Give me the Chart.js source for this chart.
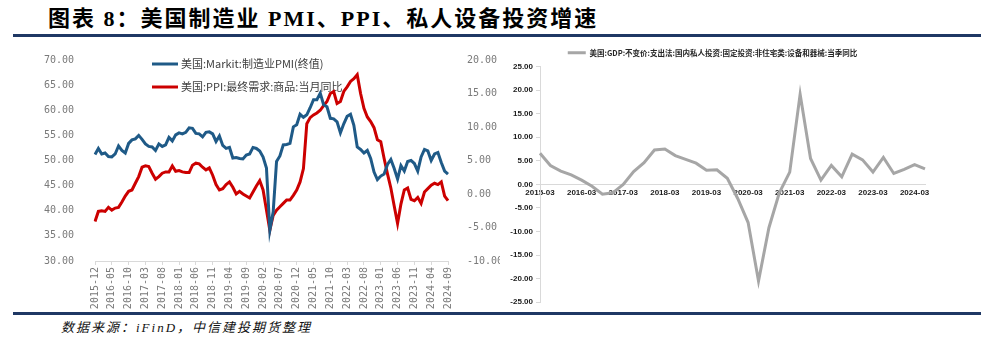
<!DOCTYPE html>
<html>
<head>
<meta charset="utf-8">
<script src="https://cdn.jsdelivr.net/npm/chart.js@4.4.1/dist/chart.umd.min.js"></script>
<style>
  html, body { margin: 0; padding: 0; background: #fff; }
  #page { position: relative; width: 994px; height: 341px; overflow: hidden; font-family: 'Noto Sans CJK SC', sans-serif; }
  #title { position: absolute; left: 48px; top: 6px; font-family: 'Liberation Serif', 'Noto Sans CJK SC', serif; font-size: 22px; line-height: 26px; font-weight: 700; letter-spacing: 2px; color: #000; white-space: nowrap; }
  .rule { position: absolute; left: 13px; width: 968px; height: 3px; background: #1f3864; }
  #src { position: absolute; left: 61px; top: 318px; font-family: 'Liberation Serif', 'Noto Sans CJK SC', serif; font-size: 13px; line-height: 20px; font-style: italic; letter-spacing: 2px; color: #111; white-space: nowrap; }
  canvas { position: absolute; }
</style>
</head>
<body>
<div id="page">
  <div id="title">图表 8：美国制造业 PMI、PPI、私人设备投资增速</div>
  <div class="rule" style="top:34px"></div>
  <canvas id="left" width="460" height="272" style="left:40px;top:40px;width:460px;height:272px"></canvas>
  <canvas id="right" width="440" height="275" style="left:500px;top:35px;width:440px;height:275px"></canvas>
  <div class="rule" style="top:312px"></div>
  <div id="src">数据来源：iFinD，中信建投期货整理</div>
</div>
<script>
// ---- left chart data: monthly, 2015-12 .. 2024-09
const monthStart = [2015, 12];
const monthCount = 106;
const pmiLabel = '美国:Markit:制造业PMI(终值)';
const ppiLabel = '美国:PPI:最终需求:商品:当月同比';
const pmiValues = [
  51.2,
  52.4, 51.3, 51.5, 50.8, 50.7, 51.3, 52.9, 52.0, 51.5, 53.4, 54.1, 54.3,
  55.0, 54.2, 53.3, 52.8, 52.7, 52.0, 53.3, 52.8, 53.1, 54.6, 53.9, 55.1,
  55.5, 55.3, 55.6, 56.5, 56.4, 55.4, 55.3, 54.7, 55.6, 55.7, 55.3, 53.8,
  54.9, 53.0, 52.4, 52.6, 50.5, 50.6, 50.4, 50.3, 51.1, 51.3, 52.6, 52.4,
  51.9, 50.7, 48.5, 36.1, 39.8, 49.8, 50.9, 53.1, 53.2, 53.4, 56.7, 57.1,
  59.2, 58.6, 59.1, 60.5, 62.1, 62.1, 63.4, 61.1, 60.7, 58.4, 58.3, 57.7,
  55.5, 57.3, 58.8, 59.2, 57.0, 52.7, 52.2, 51.5, 52.0, 50.4, 47.7, 46.2,
  46.9, 47.3, 49.2, 50.2, 48.4, 46.3, 49.0, 47.9, 49.8, 50.0, 49.4, 47.9,
  50.7, 52.2, 51.9, 50.0, 51.3, 51.6, 49.6, 47.9, 47.3
];
const ppiValues = [
  -4.1,
  -2.6, -2.5, -2.6, -2.0, -2.4, -2.1, -2.0, -1.2, -0.3, 0.4, 0.6, 1.6,
  2.6, 4.0, 4.2, 4.1, 3.1, 2.2, 2.6, 3.1, 3.3, 3.3, 4.2, 3.4,
  3.5, 3.3, 3.2, 3.2, 4.3, 4.6, 4.5, 4.0, 3.6, 3.9, 2.8, 1.4,
  0.6, 0.8, 1.4, 1.8, 1.0, 0.0, 0.4, 0.0, -0.3, -0.6, 0.3, 1.2,
  2.0, 0.6, -2.4, -5.4, -3.2, -2.4, -1.9, -1.4, -0.9, -0.9, -0.2, 0.6,
  1.8, 3.8, 10.5, 11.4, 11.8, 12.1, 12.5, 13.2, 13.8, 15.0, 15.3, 13.5,
  13.8, 15.3, 16.0, 16.8, 17.2, 17.8, 15.0, 12.8, 11.5, 10.8, 9.9, 8.1,
  7.8, 5.3, 3.0, 0.9, -1.8, -4.4, -1.5, 0.6, 0.9, -0.8, -1.0, -0.5,
  -1.4, 0.3, 0.8, 1.3, 1.6, 1.4, 1.8, -0.3, -1.0
];
const leftTicks = { min: 30, max: 70, step: 5 };
const rightTicks = { min: -10, max: 20, step: 5 };

// ---- right chart data: quarterly, 2015-03 .. 2024-06
const quarterStart = [2015, 3];
const quarterCount = 38;
const gdpLabel = '美国:GDP:不变价:支出法:国内私人投资:固定投资:非住宅类:设备和器械:当季同比';
const gdpValues = [
  6.6, 4.0, 2.8, 2.0, 0.9, -0.4, -2.1, -1.8, 0.0, 2.7,
  4.6, 7.3, 7.5, 6.1, 5.3, 4.5, 3.0, 3.1, 1.3, -3.0,
  -8.1, -20.5, -9.2, -1.8, 2.6, 19.1, 5.5, 0.9, 4.0, 1.6,
  6.4, 5.2, 2.6, 5.7, 2.3, 3.2, 4.2, 3.3
];
const gdpTicks = { min: -25, max: 25, step: 5 };

function monthLabels(start, count, stepMonths) {
  const out = [];
  let y = start[0], m = start[1];
  for (let i = 0; i < count; i++) {
    out.push(y + '-' + String(m).padStart(2, '0'));
    m += stepMonths;
    while (m > 12) { m -= 12; y++; }
  }
  return out;
}
const months = monthLabels(monthStart, monthCount, 1);
const quarters = monthLabels(quarterStart, quarterCount, 3);

const monoFont = { family: "'DejaVu Sans Mono', monospace", size: 10 };
const tickGrey = '#7a7a7a';

// legend drawn inside the plot, under the lines
const innerLegend = {
  id: 'innerLegend',
  beforeDatasetsDraw(chart) {
    const ctx = chart.ctx;
    const a = chart.chartArea;
    ctx.save();
    ctx.font = "11px 'Noto Sans CJK SC', sans-serif";
    ctx.textBaseline = 'middle';
    chart.data.datasets.forEach((ds, i) => {
      const x = a.left + 57;
      const y = a.top + 4 + i * 23;
      ctx.strokeStyle = ds.borderColor;
      ctx.lineWidth = 3;
      ctx.beginPath();
      ctx.moveTo(x, y);
      ctx.lineTo(x + 26, y);
      ctx.stroke();
      ctx.fillStyle = '#404040';
      ctx.fillText(ds.label, x + 29, y);
    });
    ctx.restore();
  }
};

new Chart(document.getElementById('left'), {
  type: 'line',
  data: {
    labels: months,
    datasets: [
      { label: pmiLabel, data: pmiValues, yAxisID: 'y', borderColor: '#1f5a87', borderWidth: 3, pointRadius: 0, tension: 0 },
      { label: ppiLabel, data: ppiValues, yAxisID: 'y1', borderColor: '#cc0000', borderWidth: 3, pointRadius: 0, tension: 0 }
    ]
  },
  options: {
    responsive: false,
    animation: false,
    layout: { padding: { top: 20, left: 0, right: 0, bottom: 0 } },
    plugins: { legend: { display: false }, tooltip: { enabled: false } },
    scales: {
      x: {
        grid: { drawOnChartArea: false, drawTicks: true, tickLength: 4, color: '#d9d9d9' },
        border: { color: '#d9d9d9' },
        ticks: {
          autoSkip: false, maxRotation: 90, minRotation: 90, padding: 2,
          color: tickGrey, font: monoFont,
          callback: (v, i) => (i % 5 === 0 ? months[i] : null)
        },
        afterFit: s => { s.height = 51; }
      },
      y: {
        position: 'left', min: leftTicks.min, max: leftTicks.max,
        grid: { display: false }, border: { display: false },
        ticks: { stepSize: leftTicks.step, padding: 13, color: tickGrey, font: monoFont, callback: v => v.toFixed(2) },
        afterFit: s => { s.width = 55; }
      },
      y1: {
        position: 'right', min: rightTicks.min, max: rightTicks.max,
        grid: { display: false }, border: { display: false },
        ticks: { stepSize: rightTicks.step, padding: 11, color: tickGrey, font: monoFont, callback: v => v.toFixed(2) },
        afterFit: s => { s.width = 52; }
      }
    }
  },
  plugins: [innerLegend]
});

const smallBold = { family: "'Liberation Sans', Arial, sans-serif", size: 8, weight: 'bold' };

new Chart(document.getElementById('right'), {
  type: 'line',
  data: {
    labels: quarters,
    datasets: [
      { label: gdpLabel, data: gdpValues, borderColor: '#a6a6a6', backgroundColor: '#a6a6a6', borderWidth: 3, pointRadius: 0, tension: 0 }
    ]
  },
  options: {
    responsive: false,
    animation: false,
    layout: { padding: { top: 4, left: 0, right: 15, bottom: 7 } },
    plugins: {
      tooltip: { enabled: false },
      legend: {
        position: 'top',
        labels: {
          usePointStyle: true, pointStyle: 'line', pointStyleWidth: 18,
          color: '#262626', padding: 10,
          font: { family: "'Noto Sans CJK SC', sans-serif", size: 7.5, weight: 'bold' }
        }
      }
    },
    scales: {
      x: {
        position: { y: 0 },
        grid: { drawOnChartArea: false, drawTicks: false },
        border: { color: '#d9d9d9' },
        ticks: {
          autoSkip: false, maxRotation: 0, padding: 4, color: '#1a1a1a', font: smallBold,
          callback: (v, i) => (i % 4 === 0 ? quarters[i] : null)
        }
      },
      y: {
        min: gdpTicks.min, max: gdpTicks.max,
        grid: { drawOnChartArea: false, drawTicks: true, tickLength: 4, color: '#d9d9d9' },
        border: { color: '#d9d9d9' },
        ticks: { stepSize: gdpTicks.step, padding: 3, color: '#1a1a1a', font: smallBold, callback: v => v.toFixed(2) },
        afterFit: s => { s.width = 40; }
      }
    }
  }
});
</script>
</body>
</html>
